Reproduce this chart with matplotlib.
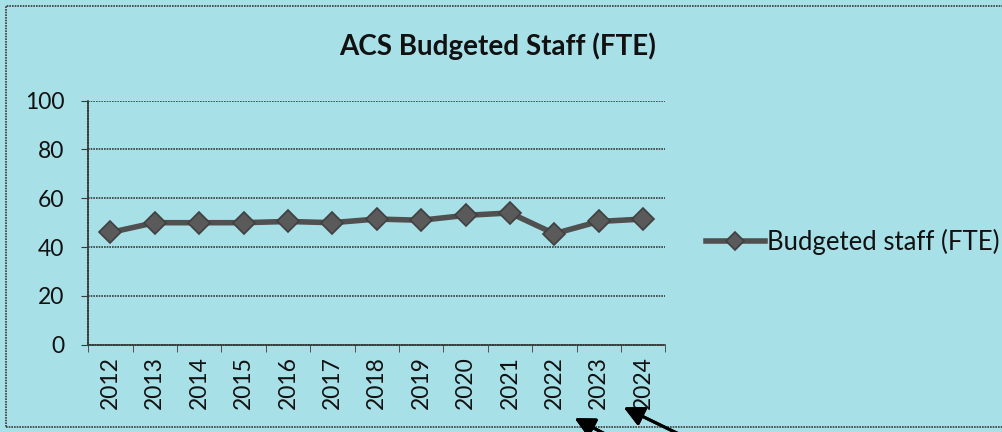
import matplotlib.pyplot as plt
from matplotlib.patches import Rectangle

# ACS budgeted staff
years = ['2012', '2013', '2014', '2015', '2016', '2017', '2018',
         '2019', '2020', '2021', '2022', '2023', '2024']
staff = [46, 50, 50, 50, 50.5, 50, 51.5, 51, 53, 54, 45.5, 50.5, 51.5]
y_ticks = [0, 20, 40, 60, 80, 100]

bg = '#a8e0e8'
ink = '#3a3a3a'

plt.rcParams['font.family'] = ['Lato', 'DejaVu Sans']

fig = plt.figure(figsize=(10.02, 4.32), dpi=100, facecolor=bg)
ax = fig.add_axes([0.088, 0.202, 0.576, 0.565], facecolor=bg)

x = list(range(len(years)))
ax.plot(x, staff, color='#505050', lw=4, marker='D', ms=11,
        mfc='#5a5a5a', mec='#404040', mew=1.2, label='Budgeted staff (FTE)')

ax.set_xlim(-0.5, len(years) - 0.5)
ax.set_ylim(0, 100)
ax.set_yticks(y_ticks)
ax.set_yticklabels([str(v) for v in y_ticks], fontsize=16.5, color='#111111')
ax.set_xticks(x)
ax.set_xticklabels(years, rotation=90, fontsize=16.5, color='#111111')
ax.tick_params(axis='x', length=0, pad=8)
ax.tick_params(axis='y', length=5, color=ink, pad=12)
# small ticks between categories
ax.set_xticks([i - 0.5 for i in range(len(years) + 1)], minor=True)
ax.tick_params(axis='x', which='minor', length=5, color=ink, direction='out')

for v in y_ticks[1:]:
    ax.axhline(v, color=ink, lw=1.2, ls=(0, (1, 0.6)), zorder=1)
for side in ['top', 'right']:
    ax.spines[side].set_visible(False)
for side in ['left', 'bottom']:
    ax.spines[side].set_color(ink)
    ax.spines[side].set_linewidth(1.2)
    ax.spines[side].set_linestyle((0, (1, 0.6)))

fig.text(0.497, 0.893, 'ACS Budgeted Staff (FTE)', ha='center', va='center',
         fontsize=20, fontweight='bold', color='#111111')

ax.legend(loc='center left', bbox_to_anchor=(1.03, 0.42), frameon=False,
          fontsize=18.5, handlelength=2.3, handletextpad=0.1, markerscale=0.85,
          labelcolor='#111111')

# dotted frame round the chart
fig.patches.append(Rectangle((0.006, 0.012), 1.1, 0.975, transform=fig.transFigure,
                             fill=False, ec=ink, lw=1.2, ls=(0, (1, 0.6))))

# hand-drawn arrows at the bottom
fig.add_artist(plt.annotate('', xy=(0.571, 0.035), xytext=(0.625, -0.03),
                            xycoords='figure fraction',
                            arrowprops=dict(arrowstyle='-|>', color='black', lw=2.2,
                                            mutation_scale=30)))
fig.add_artist(plt.annotate('', xy=(0.620, 0.06), xytext=(0.70, -0.03),
                            xycoords='figure fraction',
                            arrowprops=dict(arrowstyle='-|>', color='black', lw=2.2,
                                            mutation_scale=30)))

fig.savefig('out.png', dpi=100, facecolor=bg)
